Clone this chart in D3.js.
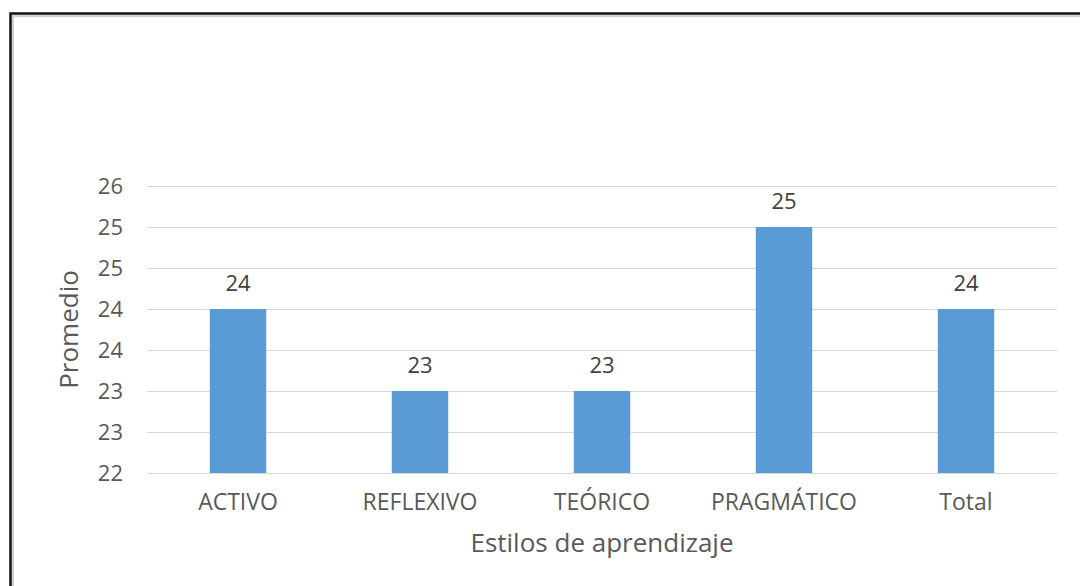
<!DOCTYPE html>
<html>
<head>
<meta charset="utf-8">
<script src="https://cdn.jsdelivr.net/npm/d3@7"></script>
<style>
  body { margin: 0; background: #fff; }
  svg { display: block; font-family: "Open Sans", sans-serif; }
</style>
</head>
<body>
<main></main>
<script>
// Data
const categories = ["ACTIVO", "REFLEXIVO", "TEÓRICO", "PRAGMÁTICO", "Total"];
const values = [24, 23, 23, 25, 24];
const tickValues = [22, 22.5, 23, 23.5, 24, 24.5, 25, 25.5];

// Set dimensions
const w = 1080;
const h = 586;
const plot = { left: 147, right: 1057, top: 186, bottom: 473 };

const svg = d3
  .select("main")
  .append("svg")
  .attr("width", w)
  .attr("height", h);

// Frame (shadow then black border)
svg
  .append("path")
  .attr("d", `M13,${h + 5} V16 H${w + 5}`)
  .attr("fill", "none")
  .attr("stroke", "#d0d0d0")
  .attr("stroke-width", 2);
svg
  .append("path")
  .attr("d", `M10.5,${h + 5} V13.5 H${w + 5}`)
  .attr("fill", "none")
  .attr("stroke", "#111")
  .attr("stroke-width", 2.5);

// Scales
const xScale = d3
  .scaleBand()
  .domain(categories)
  .range([plot.left, plot.right])
  .paddingInner(0.69)
  .paddingOuter(0.345);

const yScale = d3
  .scaleLinear()
  .domain([22, 25.5])
  .range([plot.bottom, plot.top]);

// Grid lines
svg
  .append("g")
  .selectAll("line")
  .data(tickValues)
  .enter()
  .append("line")
  .attr("x1", plot.left)
  .attr("x2", plot.right)
  .attr("y1", (d) => Math.round(yScale(d)) + 0.5)
  .attr("y2", (d) => Math.round(yScale(d)) + 0.5)
  .attr("stroke", "#d9d9d9")
  .attr("stroke-width", 1);

// Y axis labels (Excel rounds the half steps)
const yAxis = d3
  .axisLeft(yScale)
  .tickValues(tickValues)
  .tickSize(0)
  .tickPadding(24)
  .tickFormat((d) => Math.round(d));
const yG = svg
  .append("g")
  .attr("transform", `translate(${plot.left}, 0)`)
  .call(yAxis);
yG.select(".domain").remove();
yG.selectAll("text")
  .attr("fill", "#595959")
  .attr("font-size", 22)
  .attr("font-family", "Open Sans, sans-serif");

// X axis labels
const xAxis = d3.axisBottom(xScale).tickSize(0).tickPadding(21);
const xG = svg
  .append("g")
  .attr("transform", `translate(0, ${plot.bottom})`)
  .call(xAxis);
xG.select(".domain").remove();
xG.selectAll("text")
  .attr("fill", "#595959")
  .attr("font-size", 23)
  .attr("font-family", "Open Sans, sans-serif");

// Bars
svg
  .selectAll("rect.bar")
  .data(values)
  .enter()
  .append("rect")
  .attr("class", "bar")
  .attr("x", (d, i) => xScale(categories[i]))
  .attr("y", (d) => yScale(d))
  .attr("width", xScale.bandwidth())
  .attr("height", (d) => yScale(22) - yScale(d))
  .attr("fill", "#5b9bd5");

// Data labels
svg
  .selectAll("text.value")
  .data(values)
  .enter()
  .append("text")
  .attr("class", "value")
  .attr("x", (d, i) => xScale(categories[i]) + xScale.bandwidth() / 2)
  .attr("y", (d) => yScale(d) - 18)
  .attr("text-anchor", "middle")
  .attr("fill", "#404040")
  .attr("font-size", 22)
  .text((d) => d);

// Axis titles
svg
  .append("text")
  .attr("x", (plot.left + plot.right) / 2)
  .attr("y", 552)
  .attr("text-anchor", "middle")
  .attr("fill", "#595959")
  .attr("font-size", 26)
  .text("Estilos de aprendizaje");

svg
  .append("text")
  .attr("transform", `translate(78, ${(plot.top + plot.bottom) / 2}) rotate(-90)`)
  .attr("text-anchor", "middle")
  .attr("fill", "#595959")
  .attr("font-size", 26)
  .text("Promedio");
</script>
</body>
</html>
